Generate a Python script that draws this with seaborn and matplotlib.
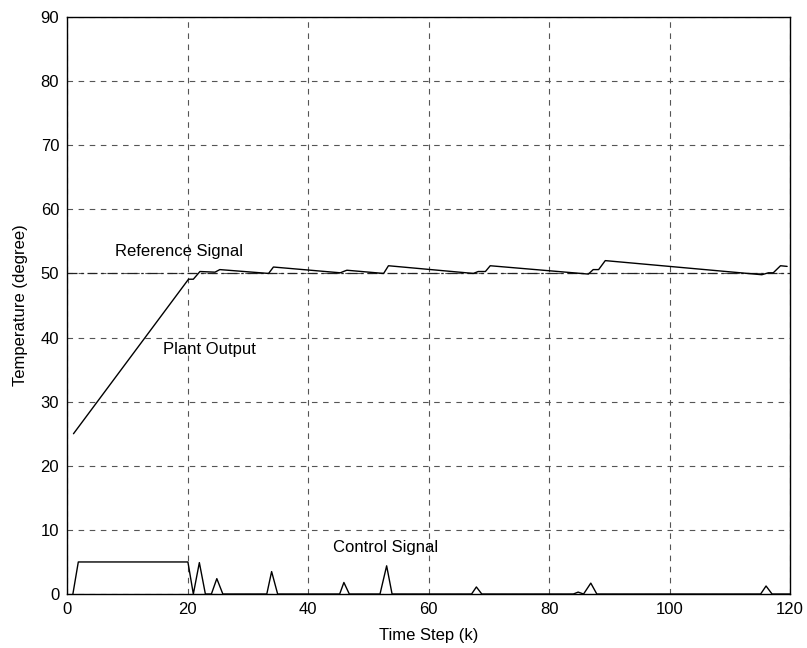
import numpy as np
import pandas as pd
import matplotlib
import matplotlib.pyplot as plt
import seaborn as sns

matplotlib.use('Agg')

# Plant output (time step, temperature)
plant_k = [1, 20.1, 20.9, 22.0, 24.5, 25.3, 33.4, 34.2, 45.3, 46.1, 46.4, 52.5, 53.3,
           67.4, 68.2, 69.4, 70.2, 86.5, 87.3, 88.2, 89.3, 115.3, 116.4, 117.2, 118.4, 119.5]
plant_y = [25, 49.1, 49.1, 50.3, 50.2, 50.6, 50.0, 51.0, 50.1, 50.4, 50.5, 50.0, 51.2,
           50.0, 50.3, 50.3, 51.2, 49.9, 50.6, 50.6, 52.0, 49.8, 50.1, 50.1, 51.2, 51.1]

# Reference signal
ref_k = [0, 120]
ref_y = [50, 50]

# Control signal
ctrl_k = [0.9, 1.8, 20.0, 20.9, 21.9, 22.9, 23.9, 24.8, 25.8, 33.1, 33.9, 34.9,
          45.2, 45.9, 46.8, 51.9, 53.0, 53.9, 67.1, 67.9, 68.8, 84.0, 84.8, 85.7,
          86.9, 87.9, 115.1, 116.0, 117.0, 120.0]
ctrl_y = [0, 5.0, 5.0, 0, 4.9, 0, 0, 2.4, 0, 0, 3.5, 0,
          0, 1.8, 0, 0, 4.4, 0, 0, 1.1, 0, 0, 0.3, 0,
          1.7, 0, 0, 1.25, 0, 0]

x_ticks = [0, 20, 40, 60, 80, 100, 120]
y_ticks = [0, 10, 20, 30, 40, 50, 60, 70, 80, 90]

sns.set_style('white')
plt.rcParams['font.family'] = ['Liberation Sans', 'DejaVu Sans']
plt.rcParams['font.size'] = 12
plt.rcParams['text.color'] = 'black'
plt.rcParams['axes.labelcolor'] = 'black'
plt.rcParams['xtick.color'] = 'black'
plt.rcParams['ytick.color'] = 'black'

fig = plt.figure(figsize=(8.07, 6.48), dpi=100)
ax = fig.add_axes([0.0836, 0.0833, 0.8955, 0.8905])

plant = pd.DataFrame({'k': plant_k, 'y': plant_y})
ref = pd.DataFrame({'k': ref_k, 'y': ref_y})
ctrl = pd.DataFrame({'k': ctrl_k, 'y': ctrl_y})

sns.lineplot(data=ref, x='k', y='y', ax=ax, color='#222222', linewidth=0.9,
             linestyle=(0, (8, 3, 2, 3)), sort=False)
sns.lineplot(data=plant, x='k', y='y', ax=ax, color='black', linewidth=1.0, sort=False)
sns.lineplot(data=ctrl, x='k', y='y', ax=ax, color='black', linewidth=1.0, sort=False)

ax.text(7.9, 53.4, 'Reference Signal', fontsize=12, va='center')
ax.text(15.9, 38.2, 'Plant Output', fontsize=12, va='center')
ax.text(44.1, 7.3, 'Control Signal', fontsize=12, va='center')

ax.set_xlim(0, 120)
ax.set_ylim(0, 90)
ax.set_xticks(x_ticks)
ax.set_yticks(y_ticks)
ax.grid(True, color='#555555', linestyle=(0, (5, 5)), linewidth=0.8)
ax.tick_params(direction='in', length=3, labelsize=12, pad=6)
for s in ax.spines.values():
    s.set_color('black')
    s.set_linewidth(1.0)

ax.set_xlabel('Time Step (k)', fontsize=12, labelpad=8)
ax.set_ylabel('Temperature (degree)', fontsize=12, labelpad=9)

plt.savefig('out.png', dpi=100)
plt.close()
